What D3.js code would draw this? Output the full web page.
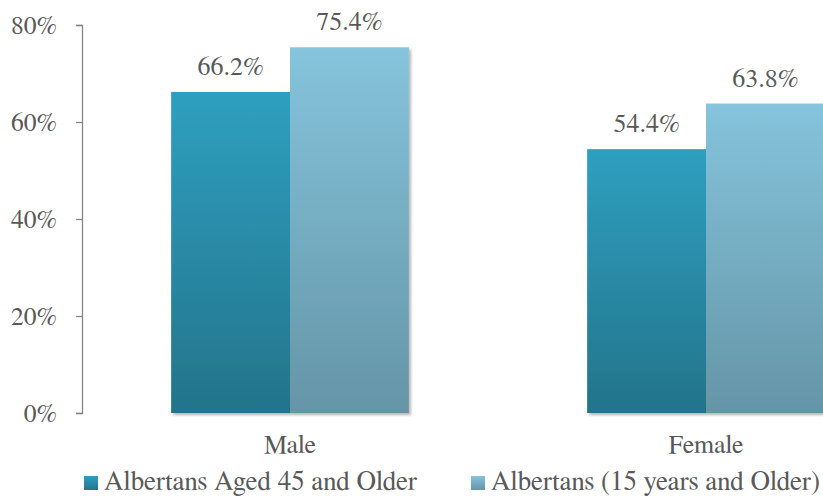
<!DOCTYPE html>
<html lang="en">
<head>
<meta charset="UTF-8">
<title>Albertans by sex</title>
<script src="https://cdn.jsdelivr.net/npm/d3@7"></script>
<style>
  body { margin:0; background:#fff; }
</style>
</head>
<body>
<svg id="chart" width="823" height="496"></svg>
<script>
// data
const categories = ["Male", "Female"];
const seriesNames = ["Albertans Aged 45 and Older", "Albertans (15 years and Older)"];
const aged45 = [66.2, 54.4];
const aged15 = [75.4, 63.8];
const yTicks = [0, 20, 40, 60, 80];

const FONT = "FreeSerif, 'Times New Roman', serif";
const svg = d3.select("#chart");
const colors = [["#2F9FC0", "#23748A"], ["#85C4DC", "#6595A7"]];

// gradients
let defs = svg.append("defs");
colors.forEach((c, i) => {
  let g = defs.append("linearGradient").attr("id", "grad" + i)
    .attr("x1", 0).attr("y1", 0).attr("x2", 0).attr("y2", 1);
  g.append("stop").attr("offset", "0%").attr("stop-color", c[0]);
  g.append("stop").attr("offset", "100%").attr("stop-color", c[1]);
});
let f = defs.append("filter").attr("id", "shadow")
  .attr("x", "-10%").attr("y", "-10%").attr("width", "130%").attr("height", "130%");
f.append("feDropShadow").attr("dx", 2).attr("dy", 2).attr("stdDeviation", 1.5)
  .attr("flood-color", "#000").attr("flood-opacity", 0.3);

let y = d3.scaleLinear().domain([0, 80]).range([413, 25]);
let x = d3.scaleBand().domain(categories).range([82, 914]);
let xs = d3.scaleBand().domain([0, 1]).range([0, x.bandwidth()]).paddingOuter(0.75);

let rows = categories.map((c, i) => ({ cat: c, vals: [aged45[i], aged15[i]] }));

let groups = svg.selectAll("g.cat").data(rows).join("g")
  .attr("class", "cat")
  .attr("transform", d => `translate(${x(d.cat)},0)`);

groups.selectAll("rect").data(d => d.vals).join("rect")
  .attr("x", (d, i) => xs(i))
  .attr("width", xs.bandwidth())
  .attr("y", d => y(d))
  .attr("height", d => y(0) - y(d))
  .attr("fill", (d, i) => `url(#grad${i})`)
  .attr("filter", "url(#shadow)");

groups.selectAll("text.val").data(d => d.vals).join("text")
  .attr("class", "val")
  .attr("x", (d, i) => xs(i) + xs.bandwidth() / 2)
  .attr("y", d => y(d) - 17)
  .attr("text-anchor", "middle")
  .style("font-family", FONT).style("font-size", "26px").style("fill", "#595959")
  .text(d => d.toFixed(1) + "%");

// y axis
let yAxis = d3.axisLeft(y).tickValues(yTicks).tickFormat(d => d + "%")
  .tickSize(6).tickPadding(19);
let ya = svg.append("g").attr("transform", "translate(82,0)").call(yAxis);
ya.attr("font-family", null).attr("font-size", null);
ya.select(".domain").attr("stroke", "#868686").attr("stroke-width", 1.3);
ya.selectAll(".tick line").attr("stroke", "#868686").attr("stroke-width", 1.3);
ya.selectAll(".tick text")
  .style("font-family", FONT).style("font-size", "25.5px").style("fill", "#595959")
  .attr("dy", "0.33em");

// x labels
svg.selectAll("text.catlbl").data(categories).join("text")
  .attr("class", "catlbl")
  .attr("x", d => x(d) + x.bandwidth() / 2)
  .attr("y", 453)
  .attr("text-anchor", "middle")
  .style("font-family", FONT).style("font-size", "26px").style("fill", "#595959")
  .text(d => d);

// legend
let legendX = [84, 471];
let lg = svg.selectAll("g.legend").data(seriesNames).join("g")
  .attr("class", "legend")
  .attr("transform", (d, i) => `translate(${legendX[i]},476)`);
lg.append("rect").attr("width", 14).attr("height", 14)
  .attr("fill", (d, i) => `url(#grad${i})`);
lg.append("text").attr("x", 20).attr("y", 14)
  .style("font-family", FONT).style("font-size", "27px").style("fill", "#595959")
  .text(d => d);
</script>
</body>
</html>
